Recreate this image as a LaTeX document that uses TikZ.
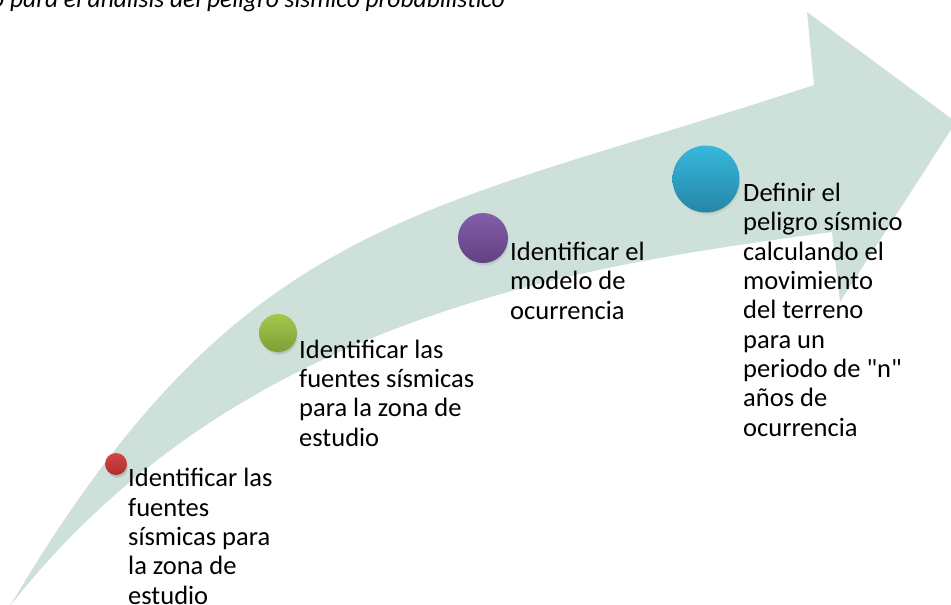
\documentclass[tikz,border=0pt]{standalone}
\usepackage{fontspec}
\setmainfont{Carlito}
\newfontfamily\plainfont{Carlito}
\usetikzlibrary{shadows}
\definecolor{band}{RGB}{205,224,218}
\definecolor{redtop}{RGB}{214,70,70}
\definecolor{redbot}{RGB}{176,44,46}
\definecolor{greentop}{RGB}{164,200,76}
\definecolor{greenbot}{RGB}{126,158,54}
\definecolor{purpletop}{RGB}{132,94,172}
\definecolor{purplebot}{RGB}{98,64,128}
\definecolor{bluetop}{RGB}{56,184,220}
\definecolor{bluebot}{RGB}{36,134,166}
\begin{document}
\begin{tikzpicture}[x=1pt,y=-1pt,
  dot/.style={circle, inner sep=0pt, circular drop shadow={shadow xshift=1pt, shadow yshift=-3pt, opacity=0.35, shadow scale=1.0}},
  lbl/.style={anchor=base west, inner sep=0pt, align=left, font=\plainfont\fontsize{26.5}{29.3}\selectfont},
  ttl/.style={anchor=base west, inner sep=0pt, font=\plainfont\fontsize{25.5}{30}\selectfont\itshape}]
\useasboundingbox (0,0) rectangle (951,605);
\clip (0,0) rectangle (951,605);
% band arrow
\fill[band] (10,606) .. controls (243,212) and (420,215) .. (814,85)
  -- (807,12) -- (956,122) -- (840,302) -- (832,232)
  .. controls (586,265) and (240,313) .. (10,606) -- cycle;
% title (cut at top)
\node[ttl] (title) at (-9,7) {o para el análisis del peligro sísmico probabilístico};
% dots
\node[dot, minimum size=22pt, top color=redtop, bottom color=redbot] (c1) at (116,464) {};
\node[dot, minimum size=38pt, top color=greentop, bottom color=greenbot] (c2) at (278,333) {};
\node[dot, minimum size=50pt, top color=purpletop, bottom color=purplebot] (c3) at (483,238) {};
\node[dot, minimum size=67pt, top color=bluetop, bottom color=bluebot] (c4) at (706,179) {};
% labels (anchor = baseline of the last line)
\node[lbl] (t1) at (128,604) {Identificar las\\fuentes\\sísmicas para\\la zona de\\estudio};
\node[lbl] (t2) at (299,446) {Identificar las\\fuentes sísmicas\\para la zona de\\estudio};
\node[lbl] (t3) at (510,319) {Identificar el\\modelo de\\ocurrencia};
\node[lbl] (t4) at (743,436) {Definir el\\peligro sísmico\\calculando el\\movimiento\\del terreno\\para un\\periodo de "n"\\años de\\ocurrencia};
\end{tikzpicture}
\end{document}
